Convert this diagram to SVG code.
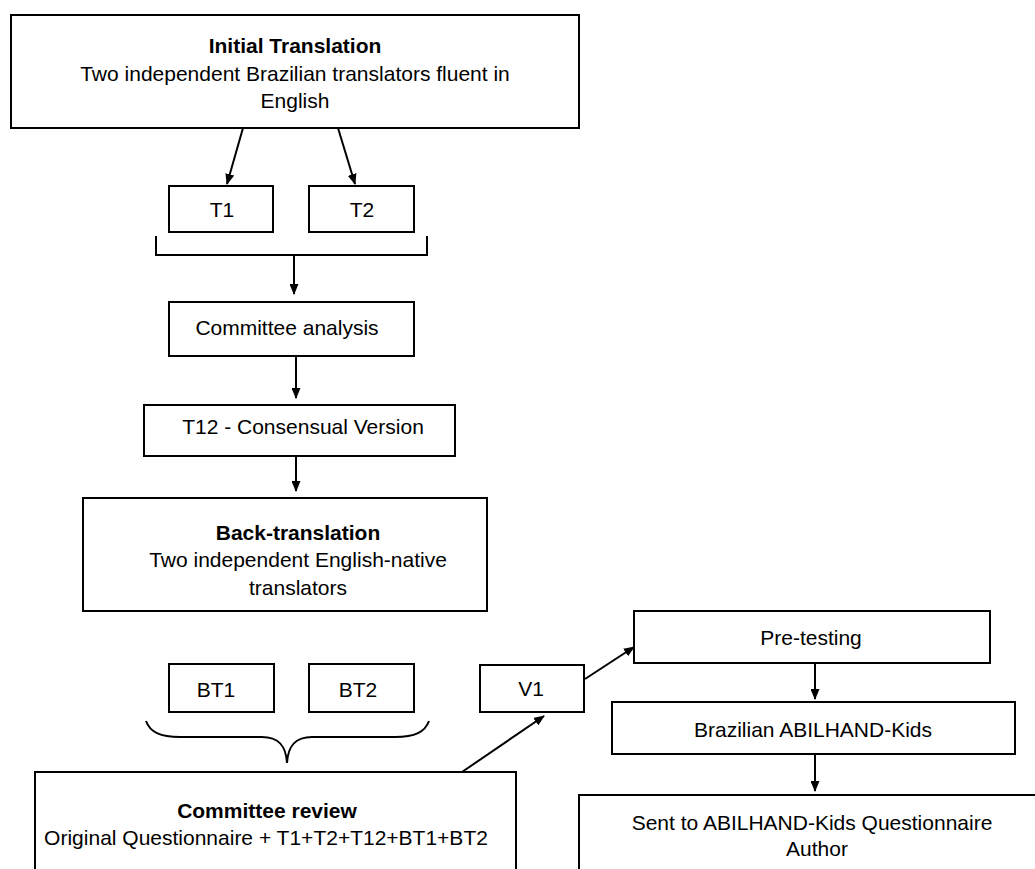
<svg xmlns="http://www.w3.org/2000/svg" width="1035" height="869" viewBox="0 0 1035 869">
<defs>
<marker id="ah" markerUnits="userSpaceOnUse" markerWidth="11" markerHeight="9" refX="10" refY="4.5" orient="auto">
<path d="M0,0 L11,4.5 L0,9 z" fill="#000"/>
</marker>
<style>
.box{fill:#fff;stroke:#000;stroke-width:2}
.t{font-family:"Liberation Sans",Arial,sans-serif;font-size:21px;fill:#000;text-anchor:middle}
.b{font-weight:bold}
.c{fill:none;stroke:#000;stroke-width:2}
.a{fill:none;stroke:#000;stroke-width:2;marker-end:url(#ah)}
</style>
</defs>
<rect width="1035" height="869" fill="#fff"/>
<g id="connectors">
<line class="a" x1="243" y1="128" x2="227" y2="184"/>
<line class="a" x1="338" y1="128" x2="355" y2="184"/>
<path class="c" d="M156,236 V255 H427 V236"/>
<line class="a" x1="294" y1="255" x2="294" y2="294"/>
<line class="a" x1="296" y1="356" x2="296" y2="398"/>
<line class="a" x1="296" y1="456" x2="296" y2="491"/>
<path class="c" d="M146,721 C150,732 160,737 180,737 L262,737 C279,737 286,746 287,763 C288,746 295,737 312,737 L395,737 C415,737 425,732 429,721"/>
<line class="a" x1="462" y1="772" x2="544" y2="716"/>
<line class="a" x1="585" y1="679" x2="634" y2="647"/>
<line class="a" x1="815" y1="663" x2="815" y2="699"/>
<line class="a" x1="815" y1="754" x2="815" y2="791"/>
</g>
<g id="initial-translation">
<rect class="box" x="11" y="15" width="568" height="113"/>
<text class="t b" x="295" y="53">Initial Translation</text>
<text class="t" x="295" y="81">Two independent Brazilian translators fluent in</text>
<text class="t" x="295" y="108">English</text>
</g>
<g id="t1">
<rect class="box" x="169" y="186" width="104" height="46"/>
<text class="t" x="222" y="217">T1</text>
</g>
<g id="t2">
<rect class="box" x="309" y="186" width="105" height="46"/>
<text class="t" x="362" y="217">T2</text>
</g>
<g id="committee-analysis">
<rect class="box" x="169" y="302" width="245" height="54"/>
<text class="t" x="287" y="335">Committee analysis</text>
</g>
<g id="t12">
<rect class="box" x="144" y="405" width="311" height="51"/>
<text class="t" x="303" y="434">T12 - Consensual Version</text>
</g>
<g id="back-translation">
<rect class="box" x="83" y="498" width="404" height="113"/>
<text class="t b" x="298" y="540">Back-translation</text>
<text class="t" x="298" y="567">Two independent English-native</text>
<text class="t" x="298" y="595">translators</text>
</g>
<g id="bt1">
<rect class="box" x="169" y="664" width="105" height="48"/>
<text class="t" x="216" y="697">BT1</text>
</g>
<g id="bt2">
<rect class="box" x="309" y="664" width="105" height="48"/>
<text class="t" x="358" y="697">BT2</text>
</g>
<g id="v1">
<rect class="box" x="480" y="665" width="104" height="47"/>
<text class="t" x="531" y="696">V1</text>
</g>
<g id="committee-review">
<rect class="box" x="35" y="772" width="481" height="110"/>
<text class="t b" x="267" y="818">Committee review</text>
<text class="t" x="266" y="845">Original Questionnaire + T1+T2+T12+BT1+BT2</text>
</g>
<g id="pre-testing">
<rect class="box" x="634" y="611" width="356" height="52"/>
<text class="t" x="811" y="645">Pre-testing</text>
</g>
<g id="brazilian-abilhand-kids">
<rect class="box" x="612" y="702" width="403" height="52"/>
<text class="t" x="813" y="737">Brazilian ABILHAND-Kids</text>
</g>
<g id="sent-to-author">
<rect class="box" x="579" y="795" width="470" height="90"/>
<text class="t" x="812" y="830">Sent to ABILHAND-Kids Questionnaire</text>
<text class="t" x="817" y="856">Author</text>
</g>
</svg>
